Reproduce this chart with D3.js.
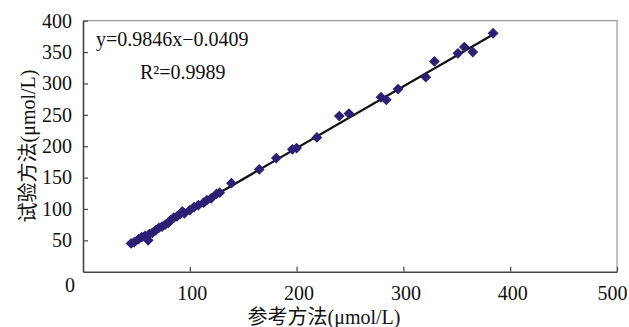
<html>
<script src='https://d3js.org/d3.v7.min.js'></script>
<style>
body {margin:0; background:white;}
</style>
<body>
<svg width=629 height=327></svg>
<script>

// reference method (x) vs test method (y), umol/L
var refValues  = [45,48,52,55,58,61,62,65,68,71,74,77,80,82,85,88,91,93,95,100,104,108,113,116,120,125,128,139,165,181,196,200,219,240,249,279,284,295,321,329,351,357,365,384];
var testValues = [45,47,52,55,57,50,60,62,66,70,72,75,78,82,86,88,92,96,93,98,103,106,110,114,117,124,126,141,163,181,195,197,214,248,252,278,274,291,310,335,348,358,350,380];
var xTicks = [100,200,300,400,500];
var yTicks = [50,100,150,200,250,300,350,400];
var slope = 0.9846, intercept = -0.0409;

var plotL = 83, plotR = 617, plotT = 20.7, plotB = 271.7;
var serif = "Liberation Serif";

var svg = d3.select("svg");
var xscale = d3.scaleLinear().domain([0,500]).range([plotL,plotR]);
var yscale = d3.scaleLinear().domain([0,400]).range([plotB,plotT]);

// frame: top/right light grey
svg.append("path")
  .attr("d", "M" + plotL + "," + plotT + "H" + plotR + "V" + plotB)
  .attr("fill","none").attr("stroke","#9a9a9a").attr("stroke-width",1.2);

// axes with inside ticks
var x_axis = d3.axisBottom(xscale).tickValues(xTicks).tickSizeInner(-5).tickSizeOuter(0).tickPadding(18);
var y_axis = d3.axisLeft(yscale).tickValues(yTicks).tickSizeInner(-5).tickSizeOuter(0).tickPadding(11);

var gx = svg.append("g").attr("transform","translate(0," + plotB + ")").call(x_axis);
var gy = svg.append("g").attr("transform","translate(" + plotL + ",0)").call(y_axis);

[gx,gy].forEach(function(g){
  g.attr("font-family", serif).attr("font-size",20);
  g.select(".domain").attr("stroke","#444").attr("stroke-width",1.6);
  g.selectAll(".tick line").attr("stroke","#444").attr("stroke-width",1.2);
  g.selectAll(".tick text").attr("fill","#111");
});
gx.selectAll(".tick text").attr("dy","0.5em")
  .attr("dx", function(d){ return d == 500 ? -5 : 2; });

// corner zero
svg.append("text").attr("x",70).attr("y",292).attr("text-anchor","middle")
  .style("font-family", serif).attr("font-size",20).attr("fill","#111").text("0");

// trend line
var xmin = d3.min(refValues), xmax = d3.max(refValues);
svg.append("line")
  .attr("x1",xscale(xmin)).attr("y1",yscale(slope*xmin+intercept))
  .attr("x2",xscale(xmax)).attr("y2",yscale(slope*xmax+intercept))
  .attr("stroke","#111").attr("stroke-width",2.2);

// diamond markers
var diamond = d3.symbol().type(d3.symbolSquare).size(58);
svg.append("g").selectAll("path")
  .data(refValues)
  .enter()
  .append("path")
    .attr("d", diamond)
    .attr("transform", function(d,i){
      return "translate(" + xscale(d) + "," + yscale(testValues[i]) + ") rotate(45)";
    })
    .attr("fill","#2c1f74");

// equation
svg.append("text").attr("x",96).attr("y",46).style("font-family", serif).attr("font-size",20).attr("fill","#111").text("y=0.9846x\u22120.0409");
svg.append("text").attr("x",140).attr("y",79).style("font-family", serif).attr("font-size",20).attr("fill","#111").text("R\u00b2=0.9989");

// axis titles
svg.append("text")
  .attr("transform","translate(35,146) rotate(-90)")
  .attr("text-anchor","middle").style("font-family", serif + ", 'Noto Sans CJK SC'").attr("font-size",20).attr("fill","#111")
  .text("试验方法(μmol/L)");

svg.append("text")
  .attr("x",324).attr("y",324)
  .attr("text-anchor","middle").style("font-family", serif + ", 'Noto Sans CJK SC'").attr("font-size",20).attr("fill","#111")
  .text("参考方法(μmol/L)");

</script>
</body>
</html>
